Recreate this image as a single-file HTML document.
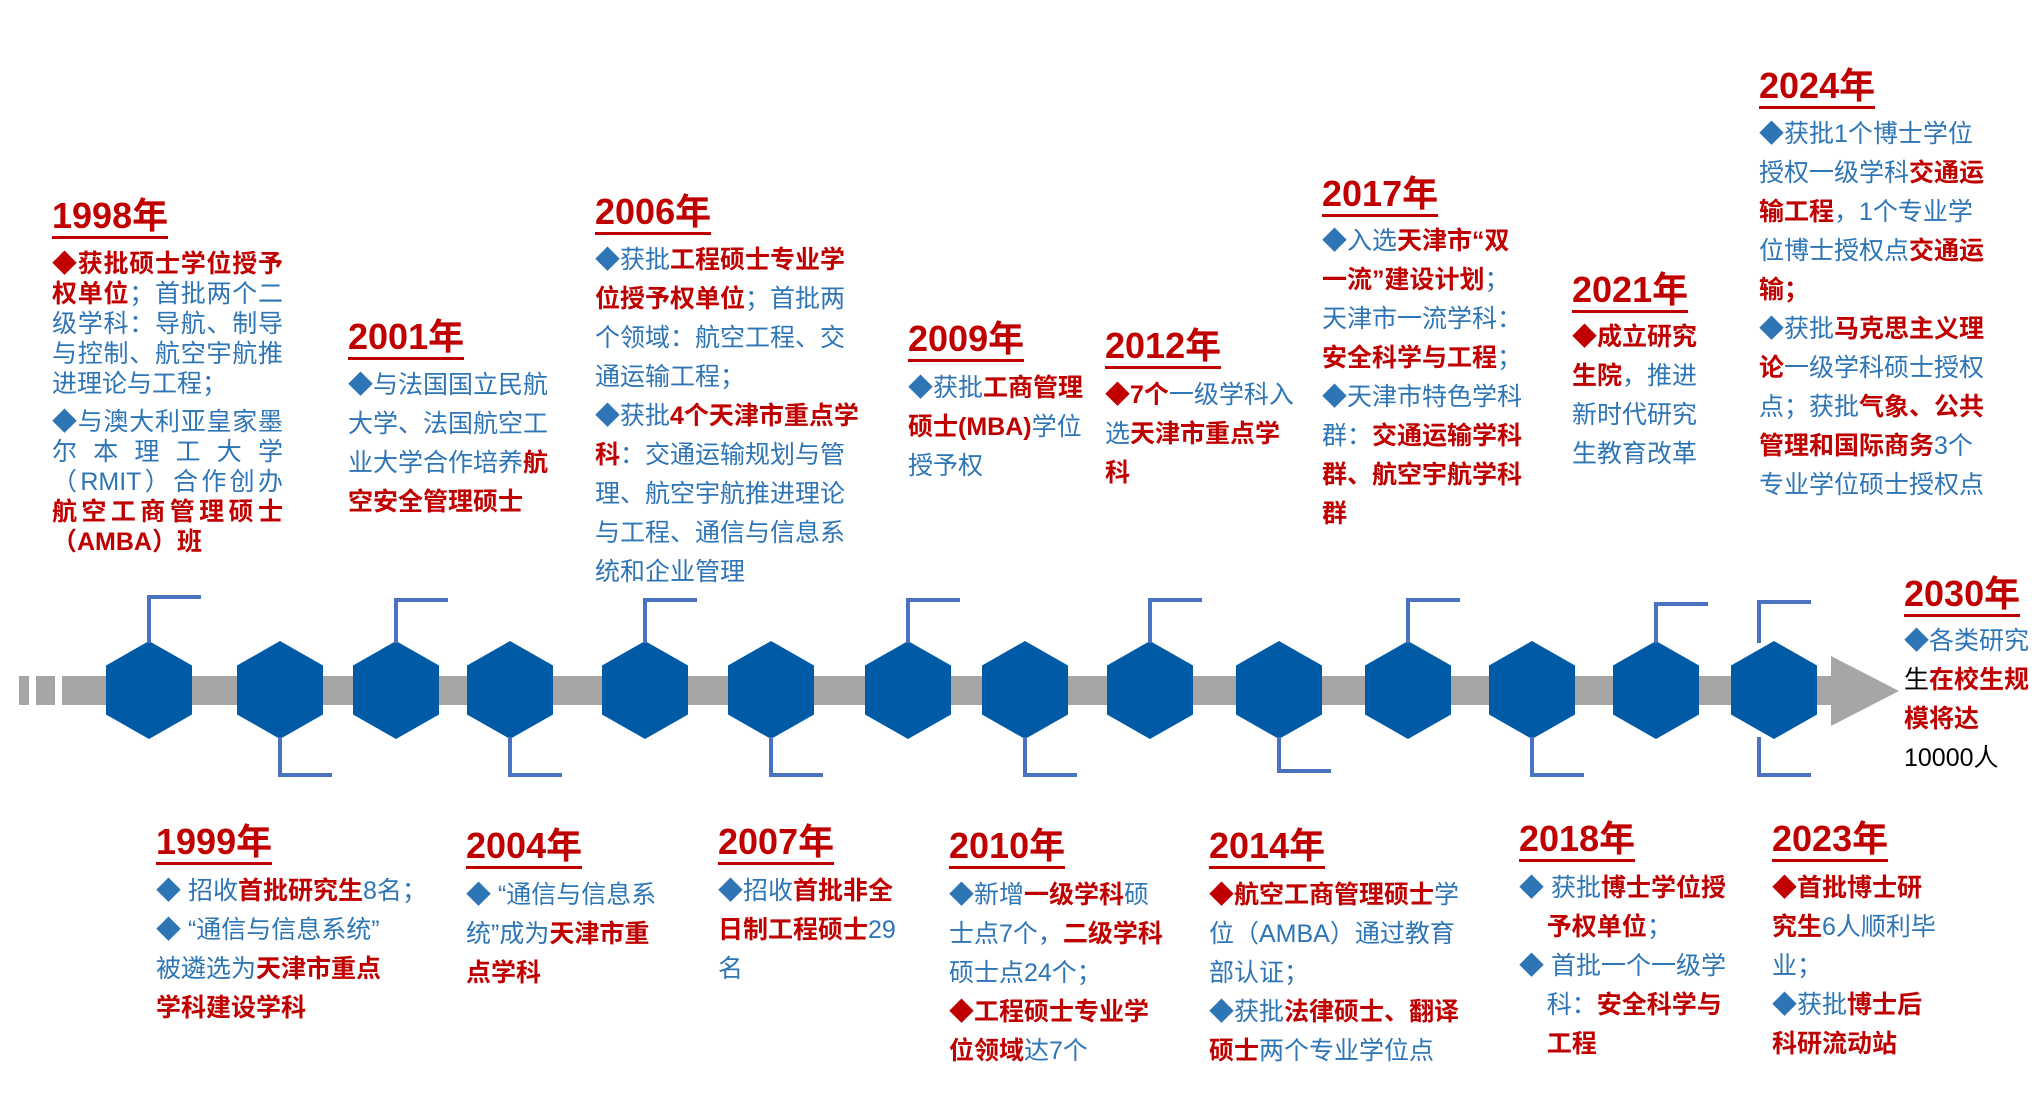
<!DOCTYPE html>
<html><head><meta charset="utf-8">
<style>
html,body{margin:0;padding:0;background:#fff;}
#c{position:relative;width:2036px;height:1112px;overflow:hidden;font-family:"Liberation Sans","Noto Sans CJK SC",sans-serif;}
.t{position:absolute;font-size:36px;font-weight:bold;color:#c00000;line-height:40px;border-bottom:3px solid #c00000;white-space:nowrap;transform:translateY(5px);}
.b{position:absolute;font-size:25px;line-height:39px;color:#2e75b6;white-space:nowrap;transform:translateY(5px);}
.b b{color:#c00000;}
.j div{text-align:justify;text-align-last:justify;}
.hx{position:absolute;width:86px;height:98px;background:#005aa6;clip-path:polygon(50% 0,100% 25%,100% 75%,50% 100%,0 75%,0 25%);top:641px;}
.v{position:absolute;width:4px;background:#4a72c0;}
.h{position:absolute;height:4px;background:#4a72c0;}
</style></head><body><div id="c">
<div style="position:absolute;left:19px;top:676px;width:10px;height:29px;background:#a6a6a6"></div>
<div style="position:absolute;left:36px;top:676px;width:19px;height:29px;background:#a6a6a6"></div>
<div style="position:absolute;left:62px;top:676px;width:1769px;height:29px;background:#a6a6a6"></div>
<div style="position:absolute;left:1831px;top:656px;width:68px;height:70px;background:#a6a6a6;clip-path:polygon(0 0,100% 50%,0 100%)"></div>

<div class="hx" style="left:106px"></div>
<div class="hx" style="left:237px"></div>
<div class="hx" style="left:353px"></div>
<div class="hx" style="left:467px"></div>
<div class="hx" style="left:602px"></div>
<div class="hx" style="left:728px"></div>
<div class="hx" style="left:865px"></div>
<div class="hx" style="left:982px"></div>
<div class="hx" style="left:1107px"></div>
<div class="hx" style="left:1236px"></div>
<div class="hx" style="left:1365px"></div>
<div class="hx" style="left:1489px"></div>
<div class="hx" style="left:1613px"></div>
<div class="hx" style="left:1731px"></div>

<div class="v" style="left:147px;top:595px;height:48px"></div><div class="h" style="left:147px;top:595px;width:54px"></div>
<div class="v" style="left:394px;top:598px;height:45px"></div><div class="h" style="left:394px;top:598px;width:54px"></div>
<div class="v" style="left:643px;top:598px;height:45px"></div><div class="h" style="left:643px;top:598px;width:54px"></div>
<div class="v" style="left:906px;top:598px;height:45px"></div><div class="h" style="left:906px;top:598px;width:54px"></div>
<div class="v" style="left:1148px;top:598px;height:45px"></div><div class="h" style="left:1148px;top:598px;width:54px"></div>
<div class="v" style="left:1406px;top:598px;height:45px"></div><div class="h" style="left:1406px;top:598px;width:54px"></div>
<div class="v" style="left:1654px;top:602px;height:41px"></div><div class="h" style="left:1654px;top:602px;width:54px"></div>
<div class="v" style="left:1757px;top:600px;height:43px"></div><div class="h" style="left:1757px;top:600px;width:54px"></div>
<div class="v" style="left:278px;top:737px;height:40px"></div><div class="h" style="left:278px;top:773px;width:54px"></div>
<div class="v" style="left:508px;top:737px;height:40px"></div><div class="h" style="left:508px;top:773px;width:54px"></div>
<div class="v" style="left:769px;top:737px;height:40px"></div><div class="h" style="left:769px;top:773px;width:54px"></div>
<div class="v" style="left:1023px;top:737px;height:40px"></div><div class="h" style="left:1023px;top:773px;width:54px"></div>
<div class="v" style="left:1277px;top:737px;height:36px"></div><div class="h" style="left:1277px;top:769px;width:54px"></div>
<div class="v" style="left:1530px;top:737px;height:40px"></div><div class="h" style="left:1530px;top:773px;width:54px"></div>
<div class="v" style="left:1757px;top:737px;height:40px"></div><div class="h" style="left:1757px;top:773px;width:54px"></div>

<div class="t" style="left:52px;top:191px">1998年</div>
<div class="b j" style="left:52px;top:244px;width:231px;line-height:30px">
<div><b>◆获批硕士学位授予</b></div>
<div><b>权单位</b>；首批两个二</div>
<div>级学科：导航、制导</div>
<div>与控制、航空宇航推</div>
<div style="text-align-last:left">进理论与工程；</div>
<div style="margin-top:8px">◆与澳大利亚皇家墨</div>
<div>尔本理工大学</div>
<div>（RMIT）合作创办</div>
<div><b>航空工商管理硕士</b></div>
<div style="text-align-last:left"><b>（AMBA）班</b></div>
</div>

<div class="t" style="left:348px;top:312px">2001年</div>
<div class="b" style="left:348px;top:361px">◆与法国国立民航<br>大学、法国航空工<br>业大学合作培养<b>航</b><br><b>空安全管理硕士</b></div>

<div class="t" style="left:595px;top:187px">2006年</div>
<div class="b" style="left:595px;top:236px">◆获批<b>工程硕士专业学</b><br><b>位授予权单位</b>；首批两<br>个领域：航空工程、交<br>通运输工程；<br>◆获批<b>4个天津市重点学</b><br><b>科</b>：交通运输规划与管<br>理、航空宇航推进理论<br>与工程、通信与信息系<br>统和企业管理</div>

<div class="t" style="left:908px;top:314px">2009年</div>
<div class="b" style="left:908px;top:364px">◆获批<b>工商管理</b><br><b>硕士(MBA)</b>学位<br>授予权</div>

<div class="t" style="left:1105px;top:321px">2012年</div>
<div class="b" style="left:1105px;top:371px"><b>◆7个</b>一级学科入<br>选<b>天津市重点学</b><br><b>科</b></div>

<div class="t" style="left:1322px;top:169px">2017年</div>
<div class="b" style="left:1322px;top:217px">◆入选<b>天津市“双</b><br><b>一流”建设计划</b>；<br>天津市一流学科：<br><b>安全科学与工程</b>；<br>◆天津市特色学科<br>群：<b>交通运输学科</b><br><b>群、航空宇航学科</b><br><b>群</b></div>

<div class="t" style="left:1572px;top:265px">2021年</div>
<div class="b" style="left:1572px;top:313px"><b>◆成立研究</b><br><b>生院</b>，推进<br>新时代研究<br>生教育改革</div>

<div class="t" style="left:1759px;top:61px">2024年</div>
<div class="b" style="left:1759px;top:110px">◆获批1个博士学位<br>授权一级学科<b>交通运</b><br><b>输工程</b>，1个专业学<br>位博士授权点<b>交通运</b><br><b>输</b><b>；</b><br>◆获批<b>马克思主义理</b><br><b>论</b>一级学科硕士授权<br>点；获批<b>气象、公共</b><br><b>管理和国际商务</b>3个<br>专业学位硕士授权点</div>

<div class="t" style="left:1904px;top:569px">2030年</div>
<div class="b" style="left:1904px;top:617px">◆各类研究<br><span style="color:#000">生</span><b>在校生规</b><br><b>模将达</b><br><span style="color:#000">10000人</span></div>

<div class="t" style="left:156px;top:817px">1999年</div>
<div class="b" style="left:156px;top:867px">◆ 招收<b>首批研究生</b>8名；<br>◆ “通信与信息系统”<br>被遴选为<b>天津市重点</b><br><b>学科建设学科</b></div>

<div class="t" style="left:466px;top:821px">2004年</div>
<div class="b" style="left:466px;top:871px">◆ “通信与信息系<br>统”成为<b>天津市重</b><br><b>点学科</b></div>

<div class="t" style="left:718px;top:817px">2007年</div>
<div class="b" style="left:718px;top:867px">◆招收<b>首批非全</b><br><b>日制工程硕士</b>29<br>名</div>

<div class="t" style="left:949px;top:821px">2010年</div>
<div class="b" style="left:949px;top:871px">◆新增<b>一级学科</b>硕<br>士点7个，<b>二级学科</b><br>硕士点24个；<br><b>◆工程硕士专业学</b><br><b>位领域</b>达7个</div>

<div class="t" style="left:1209px;top:821px">2014年</div>
<div class="b" style="left:1209px;top:871px"><b>◆航空工商管理硕士</b>学<br>位（AMBA）通过教育<br>部认证；<br>◆获批<b>法律硕士、翻译</b><br><b>硕士</b>两个专业学位点</div>

<div class="t" style="left:1519px;top:814px">2018年</div>
<div class="b" style="left:1519px;top:864px">◆ 获批<b>博士学位授</b><br>&nbsp;&nbsp;&nbsp;&nbsp;<b>予权单位</b>；<br>◆ 首批一个一级学<br>&nbsp;&nbsp;&nbsp;&nbsp;科：<b>安全科学与</b><br>&nbsp;&nbsp;&nbsp;&nbsp;<b>工程</b></div>

<div class="t" style="left:1772px;top:814px">2023年</div>
<div class="b" style="left:1772px;top:864px"><b>◆首批博士研</b><br><b>究生</b>6人顺利毕<br>业；<br>◆获批<b>博士后</b><br><b>科研流动站</b></div>
</div></body></html>
